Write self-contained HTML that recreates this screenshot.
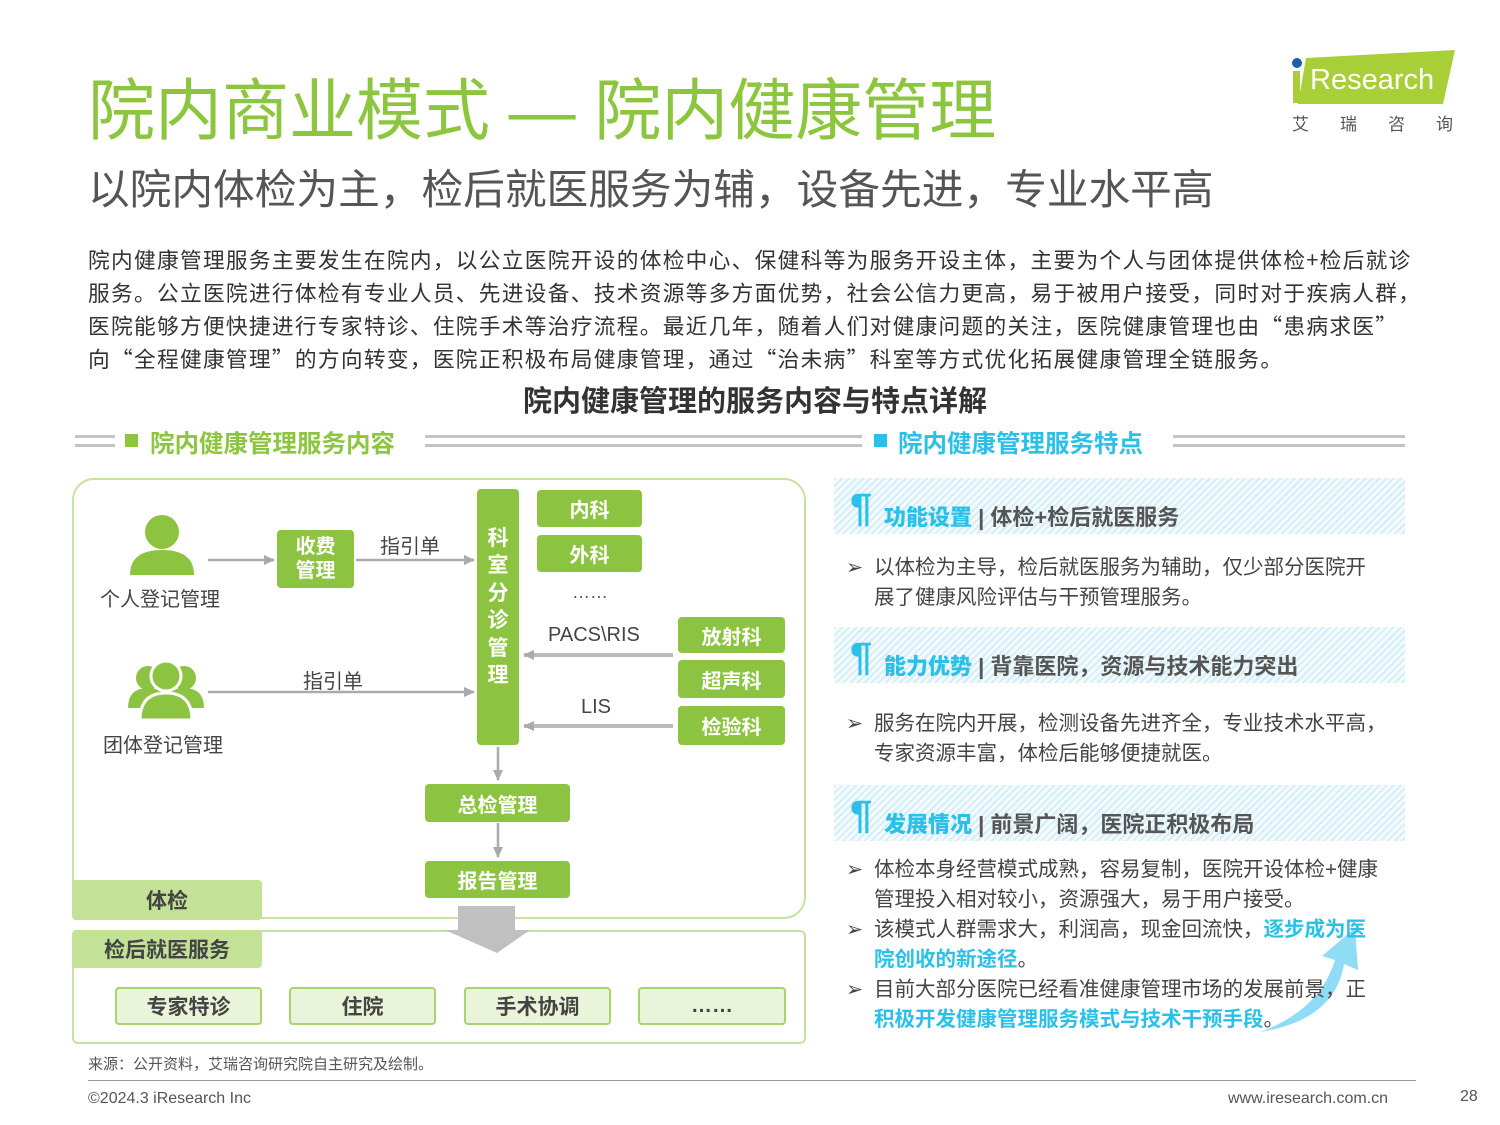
<!DOCTYPE html>
<html><head><meta charset="utf-8"><style>
*{margin:0;padding:0;box-sizing:border-box}
body{width:1500px;height:1125px;background:#fff;position:relative;overflow:hidden;font-family:"Liberation Sans","Noto Sans CJK SC",sans-serif;color:#333}
.a{position:absolute;white-space:nowrap}
.g{background:#8cc341;color:#fff;font-weight:bold;border-radius:4px;display:flex;align-items:center;justify-content:center;position:absolute;font-size:20px}
.lg{background:#e9f4da;border:2px solid #a6d46e;color:#444;font-weight:bold;border-radius:4px;display:flex;align-items:center;justify-content:center;position:absolute;font-size:21px}
.tab{background:#c3e297;color:#444;font-weight:bold;border-radius:4px;display:flex;align-items:center;justify-content:center;position:absolute;font-size:21px}
.band{position:absolute;left:834px;width:571px;height:56px;background:repeating-linear-gradient(135deg,#d4eef8 0 2px,#f4fbfe 2px 5px)}
.pil{position:absolute;left:16px;top:10px;color:#2bc0e8;font-size:40px;font-weight:bold;line-height:40px}
.bt{position:absolute;left:50px;top:22px;font-size:22px;font-weight:bold;color:#555;white-space:nowrap}
.bt b{color:#2bc0e8}
.bl{position:absolute;left:846px;font-size:20.5px;color:#444;white-space:nowrap;line-height:30px}
.bl i{font-style:normal;display:inline-block;width:28px}
.hl{color:#2bc0e8;font-weight:bold}
.dl{position:absolute;height:12px;border-top:3px solid #c4c4c4;border-bottom:3px solid #c4c4c4}
.cj{font-family:"Noto Sans CJK SC",sans-serif}
</style></head><body>
<div class="a" style="left:88px;top:57px;font-size:67px;color:#8cc63f">院内商业模式 — 院内健康管理</div>
<div class="a" style="left:88px;top:157px;font-size:41.7px;color:#555">以院内体检为主，检后就医服务为辅，设备先进，专业水平高</div>
<svg class="a" style="left:1288px;top:48px" width="170" height="60"><polygon points="18,10 167,2 155,56 10,56" fill="#a9cf38"/><circle cx="9" cy="15" r="5" fill="#1f5fa8"/><rect x="5" y="23" width="7" height="32" fill="#a9cf38"/><text x="22" y="41" font-size="29" fill="#fff" font-family="Liberation Sans">Research</text></svg>
<div class="a" style="left:1292px;top:110px;font-size:17px;color:#555;letter-spacing:31px">艾瑞咨询</div>
<div class="a cj" style="left:88px;top:243px;font-size:21.7px;letter-spacing:1.3px;line-height:33px;color:#333">院内健康管理服务主要发生在院内，以公立医院开设的体检中心、保健科等为服务开设主体，主要为个人与团体提供体检+检后就诊<br>服务。公立医院进行体检有专业人员、先进设备、技术资源等多方面优势，社会公信力更高，易于被用户接受，同时对于疾病人群，<br>医院能够方便快捷进行专家特诊、住院手术等治疗流程。最近几年，随着人们对健康问题的关注，医院健康管理也由“患病求医”<br>向“全程健康管理”的方向转变，医院正积极布局健康管理，通过“治未病”科室等方式优化拓展健康管理全链服务。</div>
<div class="a" style="left:0;width:1510px;text-align:center;top:378px;font-size:29px;font-weight:bold;color:#333">院内健康管理的服务内容与特点详解</div>
<div class="dl" style="left:75px;top:435px;width:40px"></div>
<div class="a" style="left:125px;top:434px;width:13px;height:13px;background:#8cc63f"></div>
<div class="a" style="left:150px;top:425px;font-size:24.5px;font-weight:bold;color:#8cc63f">院内健康管理服务内容</div>
<div class="dl" style="left:425px;top:435px;width:437px"></div>
<div class="a" style="left:874px;top:434px;width:13px;height:13px;background:#2bc0e8"></div>
<div class="a" style="left:898px;top:425px;font-size:24.5px;font-weight:bold;color:#2bc0e8">院内健康管理服务特点</div>
<div class="dl" style="left:1173px;top:435px;width:232px"></div>

<div class="a" style="left:72px;top:478px;width:734px;height:441px;border:2px solid #c5e2a0;border-radius:22px"></div>
<div class="a" style="left:72px;top:930px;width:734px;height:114px;border:2px solid #c5e2a0;border-radius:6px"></div>
<svg class="a" style="left:0;top:0" width="820" height="1000">
<defs><marker id="m" markerUnits="userSpaceOnUse" markerWidth="12" markerHeight="12" refX="10" refY="6" orient="auto"><path d="M0,1L11,6L0,11z" fill="#aaa"/></marker></defs>
<g fill="#8cc341"><circle cx="162" cy="532" r="17"/><path d="M130,575 Q130,550 162,550 Q194,550 194,575z"/>
<circle cx="148" cy="678" r="12"/><circle cx="184" cy="678" r="12"/><path d="M128,708 Q128,688 148,688 Q168,688 168,708z"/><path d="M164,708 Q164,688 184,688 Q204,688 204,708z"/><circle cx="166" cy="676" r="15" stroke="#fff" stroke-width="3"/><path d="M140,720 Q140,693 166,693 Q192,693 192,720z" stroke="#fff" stroke-width="3"/></g>
<g stroke="#aaa" stroke-width="2.5" fill="none" marker-end="url(#m)">
<line x1="208" y1="560" x2="274" y2="560"/><line x1="356" y1="560" x2="474" y2="560"/><line x1="208" y1="692" x2="474" y2="692"/>
<line x1="498" y1="747" x2="498" y2="780"/><line x1="498" y1="823" x2="498" y2="857"/></g>
<g stroke="#bbb" stroke-width="4" marker-end="url(#m)"><line x1="673" y1="655" x2="524" y2="655"/><line x1="673" y1="726" x2="524" y2="726"/></g>
<path d="M458,906H515V930H530L497,953L445,930H458z" fill="#c0c0c0"/>
</svg>
<div class="a" style="left:100px;top:583px;font-size:20px;color:#444">个人登记管理</div>
<div class="a" style="left:103px;top:729px;font-size:20px;color:#444">团体登记管理</div>
<div class="g" style="left:277px;top:530px;width:77px;height:58px;line-height:24px;text-align:center">收费<br>管理</div>
<div class="a" style="left:380px;top:530px;font-size:20px;color:#444">指引单</div>
<div class="a" style="left:303px;top:665px;font-size:20px;color:#444">指引单</div>
<div class="g" style="left:477px;top:489px;width:42px;height:256px;font-size:21px;line-height:27.5px;text-align:center;padding-bottom:20px">科<br>室<br>分<br>诊<br>管<br>理</div>
<div class="g" style="left:537px;top:490px;width:105px;height:37px">内科</div>
<div class="g" style="left:537px;top:535px;width:105px;height:37px">外科</div>
<div class="a" style="left:572px;top:582px;font-size:18px;color:#555">……</div>
<div class="a" style="left:548px;top:624px;font-size:20px;color:#444">PACS\RIS</div>
<div class="a" style="left:581px;top:696px;font-size:20px;color:#444">LIS</div>
<div class="g" style="left:678px;top:617px;width:107px;height:36px">放射科</div>
<div class="g" style="left:678px;top:660px;width:107px;height:38px">超声科</div>
<div class="g" style="left:678px;top:706px;width:107px;height:39px">检验科</div>
<div class="g" style="left:425px;top:784px;width:145px;height:38px">总检管理</div>
<div class="g" style="left:425px;top:861px;width:145px;height:37px">报告管理</div>
<div class="tab" style="left:72px;top:880px;width:190px;height:40px">体检</div>
<div class="tab" style="left:72px;top:930px;width:190px;height:38px">检后就医服务</div>
<div class="lg" style="left:115px;top:987px;width:147px;height:38px">专家特诊</div>
<div class="lg" style="left:289px;top:987px;width:147px;height:38px">住院</div>
<div class="lg" style="left:464px;top:987px;width:147px;height:38px">手术协调</div>
<div class="lg" style="left:638px;top:987px;width:148px;height:38px">……</div>

<div class="band" style="top:478px"><div class="pil">¶</div><div class="bt"><b>功能设置</b> | 体检+检后就医服务</div></div>
<div class="bl" style="top:553px"><i>➢</i>以体检为主导，检后就医服务为辅助，仅少部分医院开<br><i></i>展了健康风险评估与干预管理服务。</div>
<div class="band" style="top:627px"><div class="pil">¶</div><div class="bt"><b>能力优势</b> | 背靠医院，资源与技术能力突出</div></div>
<div class="bl" style="top:709px"><i>➢</i>服务在院内开展，检测设备先进齐全，专业技术水平高，<br><i></i>专家资源丰富，体检后能够便捷就医。</div>
<div class="band" style="top:785px"><div class="pil">¶</div><div class="bt"><b>发展情况</b> | 前景广阔，医院正积极布局</div></div>
<svg class="a" style="left:1240px;top:920px" width="130" height="120"><path d="M20,112 Q80,90 95,40 L82,36 L115,8 L118,50 L104,44 Q95,100 20,112z" fill="#8fdcf5"/></svg>
<div class="bl" style="top:855px"><i>➢</i>体检本身经营模式成熟，容易复制，医院开设体检+健康<br><i></i>管理投入相对较小，资源强大，易于用户接受。<br><i>➢</i>该模式人群需求大，利润高，现金回流快，<span class="hl">逐步成为医</span><br><i></i><span class="hl">院创收的新途径</span>。<br><i>➢</i>目前大部分医院已经看准健康管理市场的发展前景，正<br><i></i><span class="hl">积极开发健康管理服务模式与技术干预手段</span>。</div>

<div class="a" style="left:88px;top:1053px;font-size:15px;color:#555">来源：公开资料，艾瑞咨询研究院自主研究及绘制。</div>
<div class="a" style="left:88px;top:1080px;width:1328px;height:1px;background:#999"></div>
<div class="a" style="left:88px;top:1090px;font-size:16px;color:#555">©2024.3 iResearch Inc</div>
<div class="a" style="left:1228px;top:1090px;font-size:16px;color:#555">www.iresearch.com.cn</div>
<div class="a" style="left:1460px;top:1088px;font-size:16px;color:#555">28</div>
</body></html>
